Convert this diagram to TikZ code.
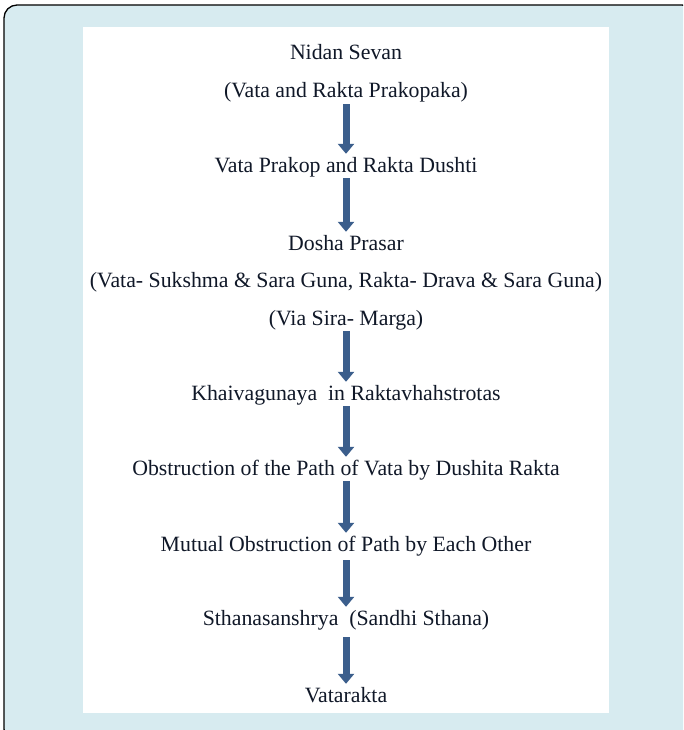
\documentclass[tikz,border=0pt]{standalone}
\usepackage{fontspec}
\setmainfont{Liberation Serif}
\usetikzlibrary{arrows.meta}
\definecolor{framebg}{HTML}{D7EBF0}
\definecolor{arrowblue}{HTML}{3B5E8C}
\definecolor{textcol}{HTML}{101828}
\begin{document}
\begin{tikzpicture}[x=1pt,y=-1pt,
  lbl/.style={anchor=base,inner sep=0pt,text height=14pt,text depth=0pt,text=textcol,font=\fontsize{21.8}{26}\selectfont},
  flow/.style={draw=arrowblue,line width=7pt,-{Triangle[width=16pt,length=10pt]},shorten <=6pt,shorten >=4pt}]
\useasboundingbox (0,0) rectangle (683,730);
\begin{scope}
\clip (0,0) rectangle (683,730);
\draw[fill=framebg,line width=1.3pt,rounded corners=13pt] (4,5) rectangle (695,742);
\end{scope}
\fill[white] (83,27) rectangle (609,713);
\node[lbl] (n1) at (346,60) {Nidan Sevan};
\node[lbl] (n2) at (346,98) {(Vata and Rakta Prakopaka)};
\node[lbl] (n3) at (346,172) {Vata Prakop and Rakta Dushti};
\node[lbl] (n4) at (346,250) {Dosha Prasar};
\node[lbl] (n5) at (346,287.5) {(Vata- Sukshma \& Sara Guna, Rakta- Drava \& Sara Guna)};
\node[lbl] (n6) at (346,325) {(Via Sira- Marga)};
\node[lbl] (n7) at (346,400) {Khaivagunaya\ \ in Raktavhahstrotas};
\node[lbl] (n8) at (346,475) {Obstruction of the Path of Vata by Dushita Rakta};
\node[lbl] (n9) at (346,551) {Mutual Obstruction of Path by Each Other};
\node[lbl] (n10) at (346,625) {Sthanasanshrya\ \ (Sandhi Sthana)};
\node[lbl] (n11) at (346,702) {Vatarakta};
\draw[flow] (n2.south) -- (n3.north);
\draw[flow] (n3.south) -- (n4.north);
\draw[flow] (n6.south) -- (n7.north);
\draw[flow] (n7.south) -- (n8.north);
\draw[flow] (n8.south) -- (n9.north);
\draw[flow,shorten <=9pt] (n9.south) -- (n10.north);
\draw[flow,shorten <=12pt] (n10.south) -- (n11.north);
\end{tikzpicture}
\end{document}
